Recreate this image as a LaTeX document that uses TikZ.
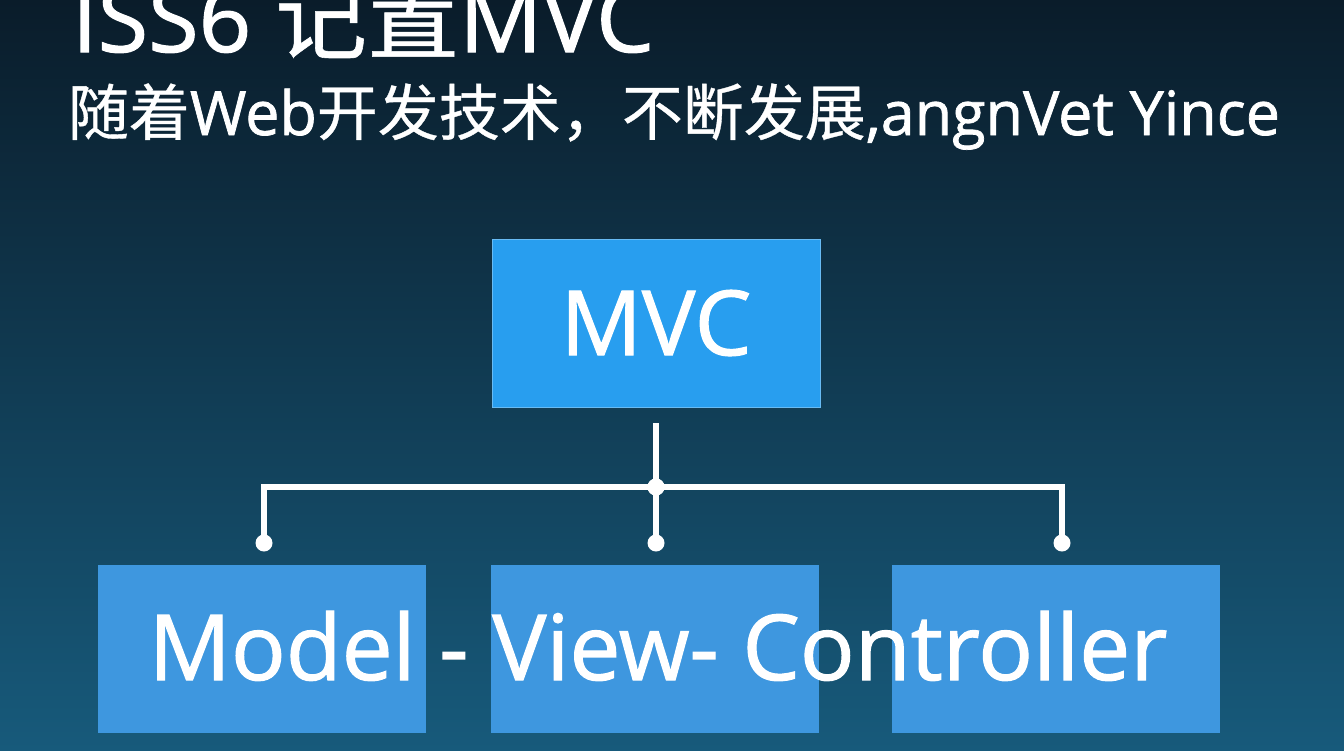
\documentclass[tikz,border=0pt]{standalone}
\usepackage{fontspec}
\setmainfont{Open Sans}[FakeBold=1.2]
\newfontfamily\cjk{Noto Sans CJK SC}[FakeBold=0.6]
\definecolor{bgtop}{HTML}{0A1C2A}
\definecolor{bgbottom}{HTML}{175A7B}
\definecolor{topblue}{HTML}{289EEF}
\definecolor{subblue}{HTML}{3E97DF}
\begin{document}
\begin{tikzpicture}
  [x=1pt,y=-1pt,every node/.style={inner sep=0pt,outer sep=0pt,text=white},
   box/.style={rectangle,minimum width=328pt,minimum height=168pt},
   dot/.style={circle,fill=white,minimum size=17pt},
   link/.style={draw=white,line width=5.5pt}]
  \shade[top color=bgtop,bottom color=bgbottom] (0,0) rectangle (1344,750);
  \useasboundingbox (0,0) rectangle (1344,750);
  % titles
  \node (title)[anchor=base west,font=\fontsize{92}{96}\selectfont] at (72,52) {ISS6 {\cjk 记置}MVC};
  \node (subtitle)[anchor=base west,font=\fontsize{61}{64}\selectfont] at (68,135) {{\cjk 随着}Web{\cjk 开发技术，不断发展},angnVet Yince};
  % boxes
  \node (mvc)[box,fill=topblue,draw=topblue!70!white,line width=1pt,font=\fontsize{90}{90}\selectfont] at (656,323) {MVC};
  \node (model)[box,fill=subblue] at (262,649) {};
  \node (view)[box,fill=subblue] at (655,649) {};
  \node (ctrl)[box,fill=subblue] at (1056,649) {};
  \node (mvclabel)[anchor=base,font=\fontsize{91}{91}\selectfont] at (658,680) {Model - View- Controller};
  % connectors
  \coordinate (stem) at (656,423);
  \node (hub)[dot] at (656,487) {};
  \node (d1)[dot] at (264,543) {};
  \node (d2)[dot] at (656,543) {};
  \node (d3)[dot] at (1062,543) {};
  \draw[link] (stem) -- (hub.center);
  \foreach \to in {d1,d2,d3}
    \draw[link] (hub.center) -| (\to.center);
  \node[dot] at (hub) {};
\end{tikzpicture}
\end{document}
